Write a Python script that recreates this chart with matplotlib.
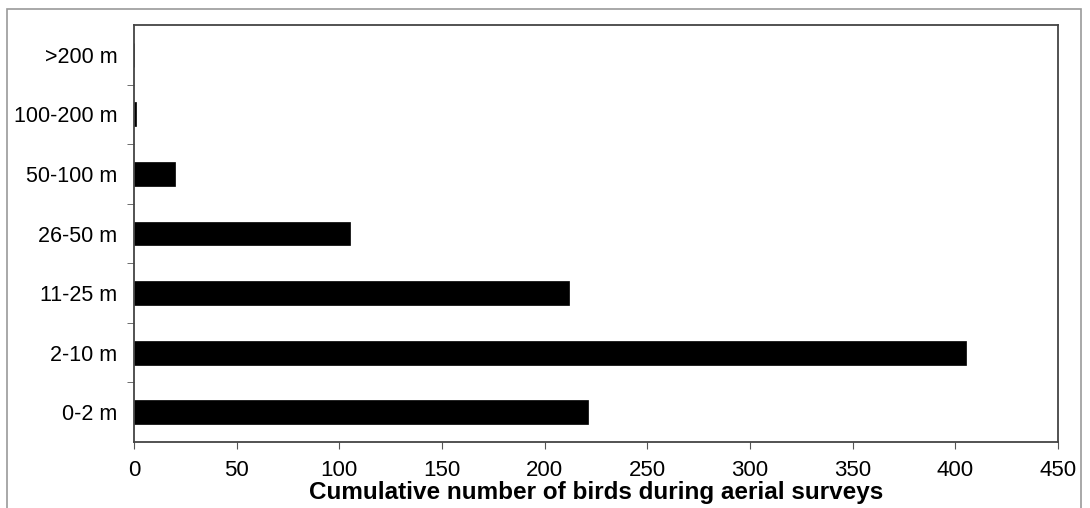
import matplotlib
matplotlib.use("Agg")
import matplotlib.pyplot as plt
from matplotlib.patches import Rectangle

categories = ["0-2 m", "2-10 m", "11-25 m", "26-50 m", "50-100 m", "100-200 m", ">200 m"]
counts = [221, 405, 212, 105, 20, 1, 0]
xticks = [0, 50, 100, 150, 200, 250, 300, 350, 400, 450]
xlabel = "Cumulative number of birds during aerial surveys"

plt.rcParams['font.family'] = ['Liberation Sans', 'DejaVu Sans']

fig = plt.figure(figsize=(10.9, 5.08), dpi=100)
fig.patches.append(Rectangle((7/1090, -0.05), (1081-7)/1090, (508-9)/508 + 0.05,
                             transform=fig.transFigure, fill=False,
                             edgecolor='#9a9a9a', linewidth=1.2))
ax = fig.add_axes([134/1090, 66/508, (1058-134)/1090, (442-25)/508])

y = list(range(len(categories)))
ax.barh(y, counts, height=0.4, color='black', edgecolor='black', linewidth=0.5)
ax.set_xlim(0, 450)
ax.set_ylim(-0.5, len(categories) - 0.5)
ax.set_xticks(xticks)
ax.set_xticklabels([str(v) for v in xticks], fontsize=16)
ax.set_yticks(y)
ax.set_yticklabels(categories, fontsize=15.5)
ax.tick_params(axis='y', length=0, pad=12)
ax.set_yticks([i + 0.5 for i in range(len(categories) - 1)], minor=True)
ax.tick_params(axis='y', which='minor', length=5, direction='out', color='#555555')
ax.tick_params(axis='x', length=5, direction='out', color='#555555', pad=8)
for s in ax.spines.values():
    s.set_color('#444444')
    s.set_linewidth(1.3)
ax.set_xlabel(xlabel, fontsize=17.5, fontweight='bold', labelpad=0)

fig.savefig("out.png", dpi=100)
